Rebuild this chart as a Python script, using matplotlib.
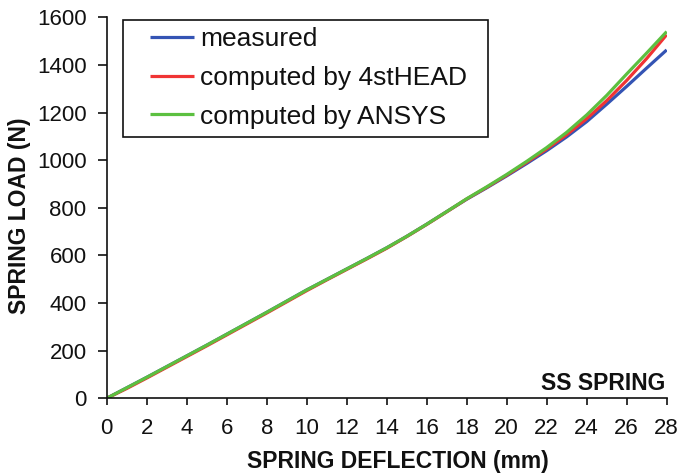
import matplotlib
matplotlib.use("Agg")
import matplotlib.pyplot as plt
from matplotlib.patches import Rectangle

plt.rcParams['font.family'] = ['Liberation Sans', 'DejaVu Sans']

deflection = list(range(0, 29))
measured = [0, 44, 88, 133, 178, 223, 269, 315, 361, 408, 455, 499, 543, 587, 632,
            680, 731, 784, 836, 884, 934, 986, 1040, 1098, 1162, 1235, 1310, 1387, 1463]
computed_4sthead = [0, 41, 85, 130, 175, 220, 266, 312, 358, 405, 452, 497, 541, 585, 630,
                    679, 730, 783, 837, 886, 937, 991, 1047, 1107, 1174, 1250, 1335, 1427, 1527]
computed_ansys = [0, 44, 88, 133, 178, 223, 269, 315, 361, 408, 455, 499, 543, 587, 632,
                  680, 731, 784, 838, 888, 940, 995, 1053, 1117, 1190, 1272, 1362, 1450, 1540]

series_labels = ["measured", "computed by 4stHEAD", "computed by ANSYS"]
series_colors = ["#3454b4", "#f03434", "#5cc040"]
x_ticks = list(range(0, 29, 2))
y_ticks = list(range(0, 1601, 200))

W, H = 678, 475
fig = plt.figure(figsize=(W / 100, H / 100), dpi=100)
ax = fig.add_axes([106.7 / W, 1 - 398.3 / H, 560 / W, 381 / H])

for ys, lab, col in zip([measured, computed_4sthead, computed_ansys], series_labels, series_colors):
    ax.plot(deflection, ys, color=col, lw=2.3, label=lab, solid_capstyle='butt')

ax.set_xlim(0, 28)
ax.set_ylim(0, 1600)
ax.set_xticks(x_ticks)
ax.set_yticks(y_ticks)
ax.spines['top'].set_visible(False)
ax.spines['right'].set_visible(False)
for s in ('left', 'bottom'):
    ax.spines[s].set_linewidth(1.2)
    ax.spines[s].set_color('#111111')
ax.tick_params(axis='y', direction='out', length=6.5, width=1.2, pad=8, labelsize=16, colors='#111111')
ax.tick_params(axis='x', direction='out', length=5, width=1.2, pad=9, labelsize=16, colors='#111111')

ax.text(0.997, 0.022, "SS SPRING", transform=ax.transAxes, ha='right', va='baseline',
        fontsize=16.5, fontweight='bold', color='#111111')

fig.text(398 / W, 1 - 468 / H, "SPRING DEFLECTION (mm)", ha='center', va='baseline',
         fontsize=16.5, fontweight='bold', color='#111111')
fig.text(20 / W, 1 - 216 / H, "SPRING LOAD (N)", ha='center', va='center', rotation=90,
         fontsize=16.5, fontweight='bold', color='#111111')

# legend frame
frame = Rectangle((123 / W, 1 - 137 / H), 365 / W, 117 / H, transform=fig.transFigure,
                  facecolor='white', edgecolor='#111111', linewidth=1.2, zorder=4, clip_on=False)
ax.add_patch(frame)

leg = ax.legend(loc='upper left',
                bbox_to_anchor=(150 / W, 1 - 27 / H),
                bbox_transform=fig.transFigure,
                fontsize=19, frameon=False, borderaxespad=0, borderpad=0,
                handlelength=1.67, handletextpad=0.23, labelspacing=0.56)
leg.set_zorder(5)
for line in leg.get_lines():
    line.set_linewidth(2.3)
for t in leg.get_texts():
    t.set_color('#111111')

fig.savefig("out.png", dpi=100)
